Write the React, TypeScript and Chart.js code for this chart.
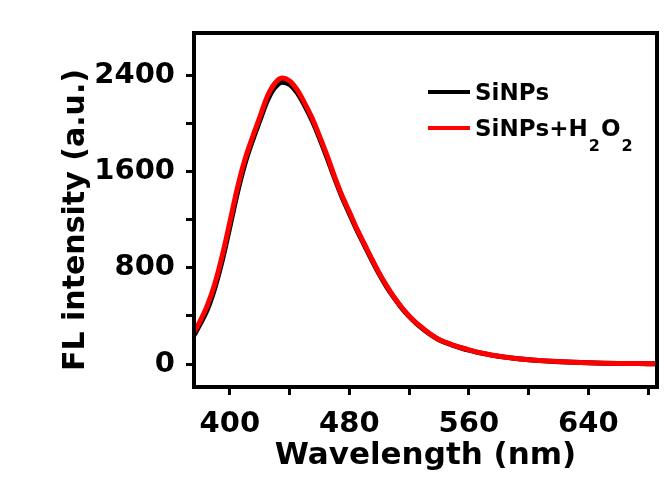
import { useEffect, useRef } from 'react';
import { Chart, registerables } from 'chart.js';

Chart.register(...registerables);

const wavelengths = [376, 380, 385, 390, 395, 400, 405, 410, 415, 420, 425, 430, 435, 440, 445, 450, 455, 460, 465, 470, 475, 480, 485, 490, 495, 500, 505, 510, 515, 520, 525, 530, 535, 540, 545, 550, 555, 560, 565, 570, 575, 580, 585, 590, 595, 600, 610, 620, 630, 640, 650, 660, 670, 680, 686];
const sinps = [240, 330, 455, 635, 865, 1140, 1420, 1660, 1850, 2020, 2185, 2295, 2342, 2322, 2256, 2150, 2025, 1878, 1718, 1548, 1390, 1252, 1115, 990, 866, 748, 642, 550, 467, 397, 337, 286, 240, 203, 176, 154, 134, 116, 100, 87, 75, 65, 56, 48, 42, 36, 27, 20, 15, 11, 8, 6, 5, 4, 3];
const sinpsH2O2 = [265, 355, 490, 670, 905, 1180, 1460, 1695, 1880, 2050, 2220, 2330, 2376, 2352, 2280, 2170, 2045, 1895, 1735, 1562, 1402, 1265, 1125, 1000, 875, 756, 650, 555, 472, 400, 340, 290, 243, 205, 178, 156, 136, 118, 102, 88, 76, 66, 57, 49, 43, 37, 28, 21, 15, 11, 8, 6, 5, 4, 3];

const seriesLabels = ['SiNPs', 'SiNPs+H\u2082O\u2082'];
const seriesColors = ['#000000', '#ff0000'];

const xTicks = [400, 440, 480, 520, 560, 600, 640, 680];
const xLabeled = [400, 480, 560, 640];
const yTicks = [0, 400, 800, 1200, 1600, 2000, 2400];
const yLabeled = [0, 800, 1600, 2400];

const xTitle = 'Wavelength (nm)';
const yTitle = 'FL intensity (a.u.)';

const FONT = '"DejaVu Sans", sans-serif';

const framePlugin = {
  id: 'frame',
  afterDatasetsDraw(chart: any) {
    const { ctx, chartArea } = chart;
    ctx.save();
    ctx.strokeStyle = '#000';
    ctx.lineWidth = 4;
    ctx.strokeRect(chartArea.left, chartArea.top, chartArea.right - chartArea.left, chartArea.bottom - chartArea.top);
    ctx.restore();
  },
};

const yTitlePlugin = {
  id: 'yTitle',
  afterDraw(chart: any) {
    const { ctx } = chart;
    ctx.save();
    ctx.translate(76, 220);
    ctx.rotate(-Math.PI / 2);
    ctx.font = `bold 30px ${FONT}`;
    ctx.fillStyle = '#000';
    ctx.textAlign = 'center';
    ctx.textBaseline = 'middle';
    ctx.fillText(yTitle, 0, 0);
    ctx.restore();
  },
};

const legendPlugin = {
  id: 'subLegend',
  afterDraw(chart: any) {
    const { ctx } = chart;
    const x0 = 428;
    const lineLen = 42;
    const rows = [92, 128];
    ctx.save();
    chart.data.datasets.forEach((ds: any, i: number) => {
      const y = rows[i];
      ctx.strokeStyle = ds.borderColor;
      ctx.lineWidth = 4;
      ctx.beginPath();
      ctx.moveTo(x0, y);
      ctx.lineTo(x0 + lineLen, y);
      ctx.stroke();
      let x = x0 + lineLen + 5;
      const baseline = y + 8;
      ctx.fillStyle = '#000';
      ctx.textBaseline = 'alphabetic';
      ctx.textAlign = 'left';
      for (const ch of ds.label as string) {
        if (ch === '\u2082') {
          ctx.font = `bold 16px ${FONT}`;
          ctx.fillText('2', x + 1, baseline + 15);
          x += ctx.measureText('2').width + 2;
        } else {
          ctx.font = `bold 23px ${FONT}`;
          ctx.fillText(ch, x, baseline);
          x += ctx.measureText(ch).width;
        }
      }
    });
    ctx.restore();
  },
};

export default function App() {
  const ref = useRef<HTMLCanvasElement>(null);
  useEffect(() => {
    document.body.style.margin = '0';
    const canvas = ref.current;
    if (!canvas) return;
    const chart = new Chart(canvas, {
      type: 'line',
      data: {
        datasets: [
          {
            label: seriesLabels[0],
            data: wavelengths.map((w, i) => ({ x: w, y: sinps[i] })),
            borderColor: seriesColors[0],
            backgroundColor: seriesColors[0],
            borderWidth: 5,
            pointRadius: 0,
            cubicInterpolationMode: 'monotone',
            order: 1,
          },
          {
            label: seriesLabels[1],
            data: wavelengths.map((w, i) => ({ x: w, y: sinpsH2O2[i] })),
            borderColor: seriesColors[1],
            backgroundColor: seriesColors[1],
            borderWidth: 5,
            pointRadius: 0,
            cubicInterpolationMode: 'monotone',
            order: 0,
          },
        ],
      },
      options: {
        animation: false,
        responsive: false,
        layout: { padding: { left: 0, right: 14, top: 33, bottom: 0 } },
        plugins: { legend: { display: false }, tooltip: { enabled: false } },
        scales: {
          x: {
            type: 'linear',
            min: 376,
            max: 686,
            afterBuildTicks: (s: any) => {
              s.ticks = xTicks.map((v) => ({ value: v }));
            },
            afterFit: (s: any) => {
              s.height = 102;
            },
            grid: { drawOnChartArea: false, drawTicks: true, tickLength: 8, tickWidth: 3, tickColor: '#000' },
            border: { display: false },
            ticks: {
              autoSkip: false,
              maxRotation: 0,
              padding: 12,
              color: '#000',
              font: { family: FONT, size: 29, weight: 'bold' },
              callback: (v: any) => (xLabeled.includes(Number(v)) ? String(v) : ''),
            },
            title: {
              display: true,
              text: xTitle,
              color: '#000',
              font: { family: FONT, size: 31, weight: 'bold' },
              padding: { top: 0, bottom: 14 },
            },
          },
          y: {
            type: 'linear',
            min: -190,
            max: 2750,
            afterBuildTicks: (s: any) => {
              s.ticks = yTicks.map((v) => ({ value: v }));
            },
            afterFit: (s: any) => {
              s.width = 194;
            },
            grid: { drawOnChartArea: false, drawTicks: true, tickLength: 8, tickWidth: 3, tickColor: '#000' },
            border: { display: false },
            ticks: {
              autoSkip: false,
              padding: 11,
              color: '#000',
              font: { family: FONT, size: 29, weight: 'bold' },
              callback: (v: any) => (yLabeled.includes(Number(v)) ? String(v) : ''),
            },
            title: { display: false },
          },
        },
      },
      plugins: [framePlugin, yTitlePlugin, legendPlugin],
    } as any);
    return () => chart.destroy();
  }, []);
  return (
    <div style={{ width: 671, height: 489, background: '#fff' }}>
      <canvas ref={ref} width={671} height={489} style={{ display: 'block' }} />
    </div>
  );
}
